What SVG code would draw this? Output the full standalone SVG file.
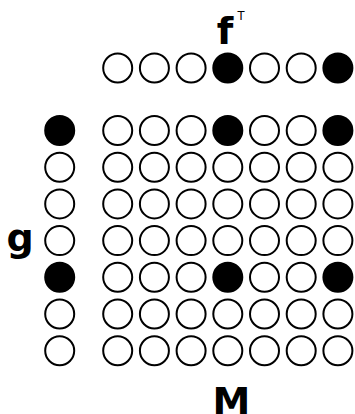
<svg xmlns="http://www.w3.org/2000/svg" width="355" height="414" viewBox="0 0 355 414">
<style>
.e{fill:#fff;stroke:#000;stroke-width:2}
.f{fill:#000;stroke:#000;stroke-width:2}
.t{font-family:"DejaVu Sans",sans-serif;font-weight:bold;fill:#000;font-size:38px;text-anchor:middle}
</style>
<defs>
<circle id="c" r="14.5"/>
</defs>
<rect width="355" height="414" fill="#fff"/>
<g id="label-f">
<text class="t" x="225" y="44">f</text>
<text x="241" y="19.5" font-size="11.5" font-family="DejaVu Sans,sans-serif" text-anchor="middle">T</text>
</g>
<g id="label-g"><text class="t" x="20" y="251">g</text></g>
<g id="label-M"><text class="t" x="231.5" y="414">M</text></g>
<g id="fT">
<use href="#c" class="e" x="117.7" y="68"/>
<use href="#c" class="e" x="154.4" y="68"/>
<use href="#c" class="e" x="191.1" y="68"/>
<use href="#c" class="f" x="227.8" y="68"/>
<use href="#c" class="e" x="264.5" y="68"/>
<use href="#c" class="e" x="301.2" y="68"/>
<use href="#c" class="f" x="337.9" y="68"/>
</g>
<g id="g">
<use href="#c" class="f" x="59.7" y="130.5"/>
<use href="#c" class="e" x="59.7" y="167.2"/>
<use href="#c" class="e" x="59.7" y="203.9"/>
<use href="#c" class="e" x="59.7" y="240.6"/>
<use href="#c" class="f" x="59.7" y="277.3"/>
<use href="#c" class="e" x="59.7" y="314"/>
<use href="#c" class="e" x="59.7" y="350.7"/>
</g>
<g id="M">
<g id="row0">
<use href="#c" class="e" x="117.7" y="130.5"/><use href="#c" class="e" x="154.4" y="130.5"/><use href="#c" class="e" x="191.1" y="130.5"/><use href="#c" class="f" x="227.8" y="130.5"/><use href="#c" class="e" x="264.5" y="130.5"/><use href="#c" class="e" x="301.2" y="130.5"/><use href="#c" class="f" x="337.9" y="130.5"/>
</g>
<g id="row1">
<use href="#c" class="e" x="117.7" y="167.2"/><use href="#c" class="e" x="154.4" y="167.2"/><use href="#c" class="e" x="191.1" y="167.2"/><use href="#c" class="e" x="227.8" y="167.2"/><use href="#c" class="e" x="264.5" y="167.2"/><use href="#c" class="e" x="301.2" y="167.2"/><use href="#c" class="e" x="337.9" y="167.2"/>
</g>
<g id="row2">
<use href="#c" class="e" x="117.7" y="203.9"/><use href="#c" class="e" x="154.4" y="203.9"/><use href="#c" class="e" x="191.1" y="203.9"/><use href="#c" class="e" x="227.8" y="203.9"/><use href="#c" class="e" x="264.5" y="203.9"/><use href="#c" class="e" x="301.2" y="203.9"/><use href="#c" class="e" x="337.9" y="203.9"/>
</g>
<g id="row3">
<use href="#c" class="e" x="117.7" y="240.6"/><use href="#c" class="e" x="154.4" y="240.6"/><use href="#c" class="e" x="191.1" y="240.6"/><use href="#c" class="e" x="227.8" y="240.6"/><use href="#c" class="e" x="264.5" y="240.6"/><use href="#c" class="e" x="301.2" y="240.6"/><use href="#c" class="e" x="337.9" y="240.6"/>
</g>
<g id="row4">
<use href="#c" class="e" x="117.7" y="277.3"/><use href="#c" class="e" x="154.4" y="277.3"/><use href="#c" class="e" x="191.1" y="277.3"/><use href="#c" class="f" x="227.8" y="277.3"/><use href="#c" class="e" x="264.5" y="277.3"/><use href="#c" class="e" x="301.2" y="277.3"/><use href="#c" class="f" x="337.9" y="277.3"/>
</g>
<g id="row5">
<use href="#c" class="e" x="117.7" y="314"/><use href="#c" class="e" x="154.4" y="314"/><use href="#c" class="e" x="191.1" y="314"/><use href="#c" class="e" x="227.8" y="314"/><use href="#c" class="e" x="264.5" y="314"/><use href="#c" class="e" x="301.2" y="314"/><use href="#c" class="e" x="337.9" y="314"/>
</g>
<g id="row6">
<use href="#c" class="e" x="117.7" y="350.7"/><use href="#c" class="e" x="154.4" y="350.7"/><use href="#c" class="e" x="191.1" y="350.7"/><use href="#c" class="e" x="227.8" y="350.7"/><use href="#c" class="e" x="264.5" y="350.7"/><use href="#c" class="e" x="301.2" y="350.7"/><use href="#c" class="e" x="337.9" y="350.7"/>
</g>
</g>
</svg>
